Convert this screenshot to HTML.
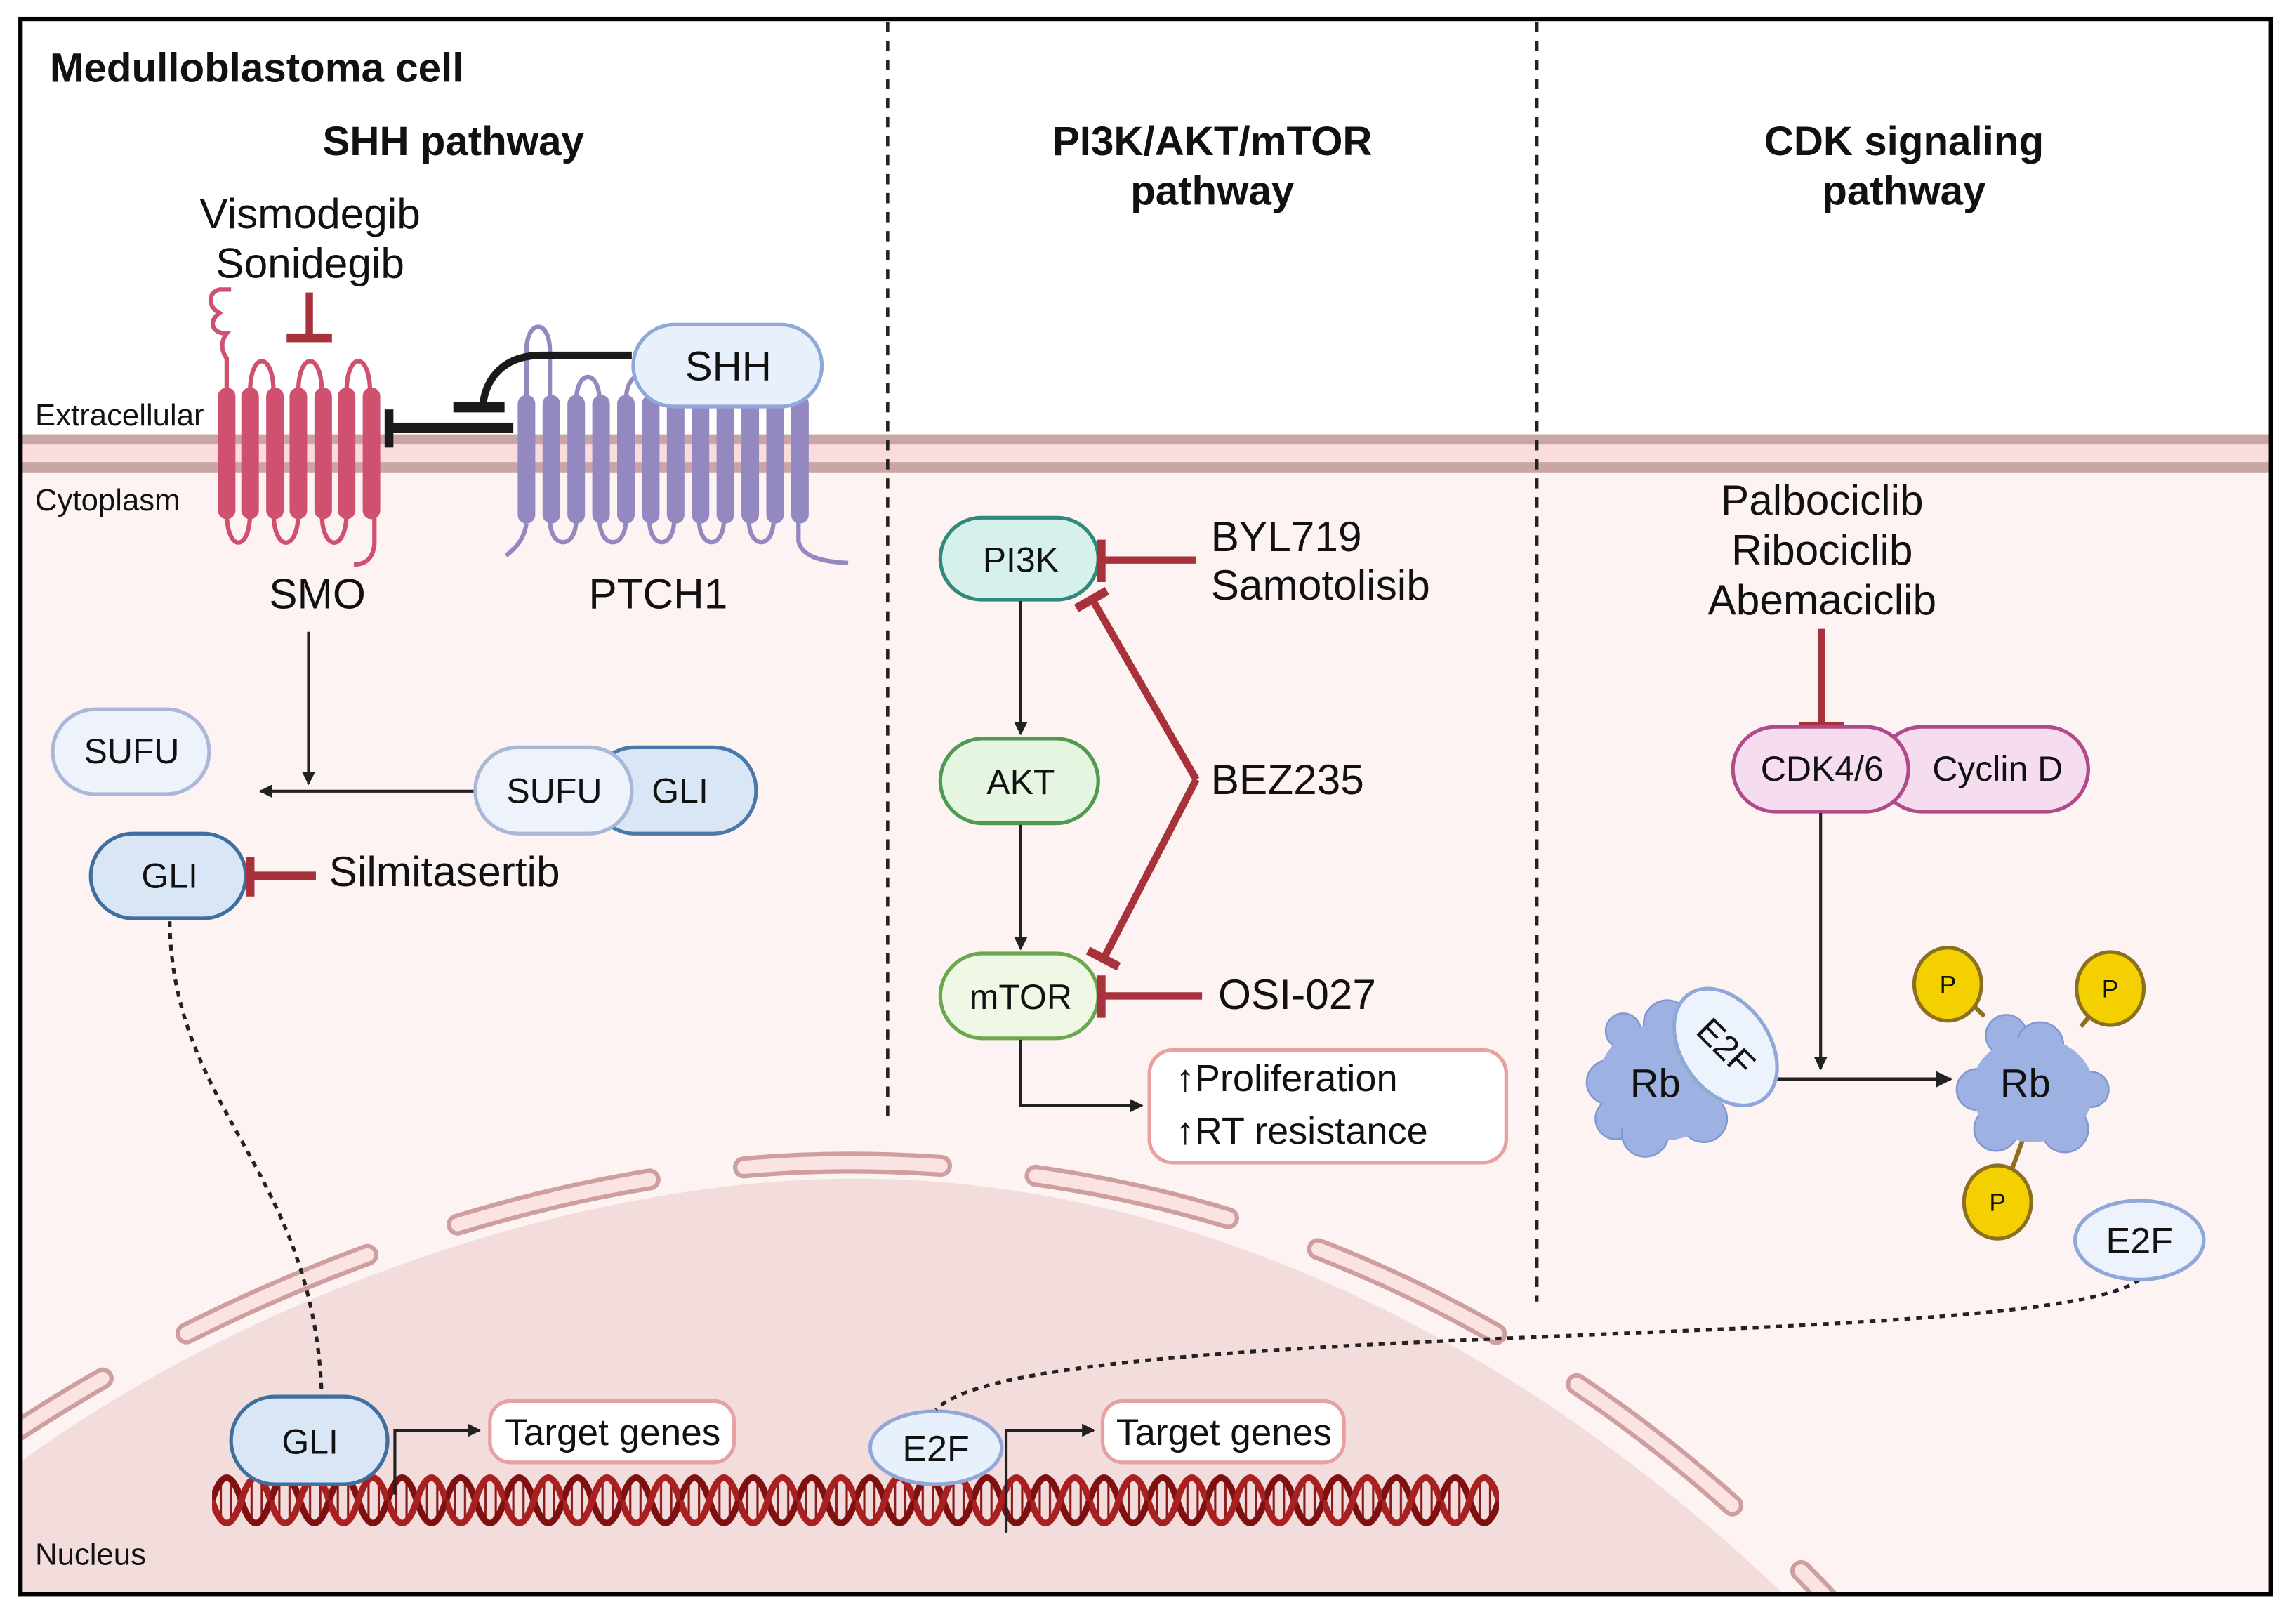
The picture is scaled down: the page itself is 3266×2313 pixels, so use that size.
<!DOCTYPE html>
<html><head><meta charset="utf-8"><style>
html,body{margin:0;padding:0;background:#fff;overflow:hidden;width:3266px;height:2313px;}
svg{display:block;}
text{font-family:"Liberation Sans",sans-serif;fill:#111;}
</style></head><body>
<svg width="3266" height="2313" viewBox="0 0 1568 1110.5" xmlns="http://www.w3.org/2000/svg">
<defs>
<clipPath id="c"><rect x="14" y="13" width="1539" height="1077"/></clipPath>
<pattern id="dna" x="145" y="1003" width="40" height="46" patternUnits="userSpaceOnUse">
<line x1="6" y1="10" x2="6" y2="36" stroke="#8b1a1a" stroke-width="1.5"/>
<line x1="13" y1="7" x2="13" y2="39" stroke="#8b1a1a" stroke-width="1.5"/>
<line x1="27" y1="7" x2="27" y2="39" stroke="#8b1a1a" stroke-width="1.5"/>
<line x1="34" y1="10" x2="34" y2="36" stroke="#8b1a1a" stroke-width="1.5"/>
<path d="M0,23 Q10,-8 20,23 T40,23" fill="none" stroke="#7e1010" stroke-width="4.5"/>
<path d="M0,23 Q10,54 20,23 T40,23" fill="none" stroke="#a82020" stroke-width="4.5"/>
</pattern>
<marker id="ah" viewBox="0 0 10 10" refX="9" refY="5" markerWidth="4.5" markerHeight="4.5" orient="auto"><path d="M0,0 L10,5 L0,10z" fill="#222"/></marker>
</defs>
<rect width="1568" height="1111" fill="#fff"/>
<g clip-path="url(#c)">
<rect x="14" y="310" width="1539" height="790" fill="#fdf3f3"/>
<path d="M0,1010 C150,895 385,806 585,806 C800,806 1035,905 1240,1110 L0,1110 Z" fill="#f2dcdc"/>
<path d="M-20,1000 C150,880 375,795 580,795 C810,795 1060,880 1270,1115" fill="none" stroke="#cf9f9f" stroke-width="15" stroke-dasharray="135 65" stroke-linecap="round" stroke-dashoffset="28"/>
<path d="M-20,1000 C150,880 375,795 580,795 C810,795 1060,880 1270,1115" fill="none" stroke="#fbe3e3" stroke-width="9" stroke-dasharray="135 65" stroke-linecap="round" stroke-dashoffset="28"/>
<rect x="14" y="297" width="1539" height="26" fill="#fbdcdc"/>
<rect x="14" y="297" width="1539" height="7" fill="#c9a5a5"/>
<rect x="14" y="316" width="1539" height="7" fill="#c9a5a5"/>
</g>
<rect x="14" y="13" width="1539" height="1077" fill="none" stroke="#000" stroke-width="3"/>
<line x1="607" y1="15" x2="607" y2="765" stroke="#222" stroke-width="2.2" stroke-dasharray="7 6"/>
<line x1="1051" y1="15" x2="1051" y2="890" stroke="#222" stroke-width="2.2" stroke-dasharray="7 6"/>

<text x="34" y="56" font-size="28" font-weight="bold">Medulloblastoma cell</text>
<g font-size="28" font-weight="bold" text-anchor="middle">
<text x="310" y="106">SHH pathway</text>
<text x="829" y="106">PI3K/AKT/mTOR</text><text x="829" y="140">pathway</text>
<text x="1302" y="106">CDK signaling</text><text x="1302" y="140">pathway</text>
</g>
<g font-size="29" text-anchor="middle">
<text x="212" y="156">Vismodegib</text><text x="212" y="190">Sonidegib</text>
<text x="217" y="416">SMO</text><text x="450" y="416">PTCH1</text>
<text x="1246" y="352">Palbociclib</text><text x="1246" y="386">Ribociclib</text><text x="1246" y="420">Abemaciclib</text>
</g>
<g font-size="29">
<text x="225" y="606">Silmitasertib</text>
<text x="828" y="377">BYL719</text><text x="828" y="410">Samotolisib</text>
<text x="828" y="543">BEZ235</text>
<text x="833" y="690">OSI-027</text>
</g>
<text x="24" y="291" font-size="21">Extracellular</text>
<text x="24" y="349" font-size="21">Cytoplasm</text>
<text x="24" y="1070" font-size="21">Nucleus</text>

<!-- SMO -->
<g stroke="#d05070" stroke-width="3" fill="none">
<path d="M155,268 L155,245 C150,238 152,232 155,228 C145,228 142,220 150,214 C142,210 142,200 150,198 L158,198"/>
<path d="M171,268 C171,240 187,240 187,268 M204,268 C204,240 220,240 220,268 M237,268 C237,240 253,240 253,268"/>
<path d="M155,350 C155,378 171,378 171,350 M187,350 C187,378 204,378 204,350 M220,350 C220,378 237,378 237,350 M256,350 L256,372 C255,382 250,386 242,386"/>
</g>
<g fill="#d05070">
<rect x="149" y="265" width="12" height="90" rx="6"/><rect x="165" y="265" width="12" height="90" rx="6"/><rect x="182" y="265" width="12" height="90" rx="6"/><rect x="198" y="265" width="12" height="90" rx="6"/><rect x="215" y="265" width="12" height="90" rx="6"/><rect x="231" y="265" width="12" height="90" rx="6"/><rect x="248" y="265" width="12" height="90" rx="6"/>
</g>
<!-- PTCH1 -->
<g stroke="#9488c0" stroke-width="3" fill="none">
<path d="M360,275 L360,240 C360,218 376,218 376,240 L376,275"/>
<path d="M394,275 C394,252 410,252 410,275 M428,275 C428,252 444,252 444,275"/>
<path d="M346,380 C352,375 358,370 360,358 M376,355 C376,376 394,376 394,355 M410,355 C410,376 428,376 428,355 M444,355 C444,376 461,376 461,355 M478,355 C478,376 495,376 495,355 M512,355 C512,376 529,376 529,355 M546,355 L546,370 C548,380 560,384 580,385"/>
</g>
<g fill="#9488c0">
<rect x="354" y="270" width="12" height="88" rx="6"/><rect x="371" y="270" width="12" height="88" rx="6"/><rect x="388" y="270" width="12" height="88" rx="6"/><rect x="405" y="270" width="12" height="88" rx="6"/><rect x="422" y="270" width="12" height="88" rx="6"/><rect x="439" y="270" width="12" height="88" rx="6"/><rect x="456" y="270" width="12" height="88" rx="6"/><rect x="473" y="270" width="12" height="88" rx="6"/><rect x="490" y="270" width="12" height="88" rx="6"/><rect x="507" y="270" width="12" height="88" rx="6"/><rect x="524" y="270" width="12" height="88" rx="6"/><rect x="541" y="270" width="12" height="88" rx="6"/>
</g>
<rect x="433" y="222" width="129" height="56" rx="28" fill="#e8f0fb" stroke="#8fa8d8" stroke-width="2.5"/>
<text x="498" y="260" font-size="28" text-anchor="middle">SHH</text>
<path d="M432,243 L370,243 C345,243 332,258 330,278" fill="none" stroke="#1a1a1a" stroke-width="5"/>
<rect x="310" y="275" width="35" height="7" fill="#1a1a1a"/>
<rect x="266" y="289" width="85" height="7" fill="#1a1a1a"/>
<rect x="263" y="280" width="6" height="26" fill="#1a1a1a"/>
<rect x="209" y="200" width="5" height="30" fill="#a8323c"/>
<rect x="196" y="228" width="31" height="6" fill="#a8323c"/>

<line x1="211" y1="432" x2="211" y2="536" stroke="#222" stroke-width="2" marker-end="url(#ah)"/>
<line x1="325" y1="541" x2="178" y2="541" stroke="#222" stroke-width="2" marker-end="url(#ah)"/>
<rect x="36" y="485" width="107" height="58" rx="29" fill="#eef2fb" stroke="#aab8d8" stroke-width="2.5"/>
<text x="90" y="522" font-size="24" text-anchor="middle">SUFU</text>
<rect x="405" y="511" width="112" height="59" rx="29" fill="#d8e6f6" stroke="#4a78a8" stroke-width="2.5"/>
<rect x="325" y="511" width="107" height="59" rx="29" fill="#eef2fb" stroke="#aab8d8" stroke-width="2.5"/>
<text x="379" y="549" font-size="24" text-anchor="middle">SUFU</text>
<text x="465" y="549" font-size="24" text-anchor="middle">GLI</text>
<rect x="62" y="570" width="106" height="58" rx="29" fill="#d8e6f6" stroke="#3f6f9f" stroke-width="2.5"/>
<text x="116" y="607" font-size="24" text-anchor="middle">GLI</text>
<rect x="172" y="596" width="44" height="6" fill="#a8323c"/>
<rect x="168" y="586" width="6" height="27" fill="#a8323c"/>
<path d="M116,630 C118,760 215,800 220,955" fill="none" stroke="#222" stroke-width="2.5" stroke-dasharray="4 4"/>

<rect x="145" y="1003" width="880" height="46" fill="url(#dna)"/>
<rect x="158" y="955" width="107" height="60" rx="30" fill="#d8e6f6" stroke="#3f6f9f" stroke-width="2.5"/>
<text x="212" y="994" font-size="24" text-anchor="middle">GLI</text>
<path d="M270,1022 L270,978 L328,978" fill="none" stroke="#222" stroke-width="2" marker-end="url(#ah)"/>
<rect x="335" y="958" width="167" height="42" rx="14" fill="#fff" stroke="#e9a0a0" stroke-width="2.5"/>
<text x="419" y="988" font-size="25.5" text-anchor="middle">Target genes</text>
<path d="M688,1048 L688,978 L748,978" fill="none" stroke="#222" stroke-width="2" marker-end="url(#ah)"/>
<rect x="754" y="958" width="165" height="42" rx="14" fill="#fff" stroke="#e9a0a0" stroke-width="2.5"/>
<text x="837" y="988" font-size="25.5" text-anchor="middle">Target genes</text>
<ellipse cx="640" cy="990" rx="45" ry="25" fill="#e8f0fb" stroke="#8fa8d8" stroke-width="2.5"/>
<text x="640" y="999" font-size="25" text-anchor="middle">E2F</text>
<path d="M1463,875 C1400,925 700,900 640,964" fill="none" stroke="#222" stroke-width="2.5" stroke-dasharray="4 4"/>

<rect x="643" y="354" width="108" height="56" rx="28" fill="#d6f0ec" stroke="#2f8a7a" stroke-width="2.5"/>
<text x="698" y="391" font-size="24" text-anchor="middle">PI3K</text>
<rect x="643" y="505" width="108" height="58" rx="29" fill="#e5f5e0" stroke="#4f9a4f" stroke-width="2.5"/>
<text x="698" y="543" font-size="24" text-anchor="middle">AKT</text>
<rect x="643" y="652" width="108" height="58" rx="29" fill="#eef8e4" stroke="#6aa84f" stroke-width="2.5"/>
<text x="698" y="690" font-size="24" text-anchor="middle">mTOR</text>
<line x1="698" y1="411" x2="698" y2="502" stroke="#222" stroke-width="2" marker-end="url(#ah)"/>
<line x1="698" y1="564" x2="698" y2="649" stroke="#222" stroke-width="2" marker-end="url(#ah)"/>
<g stroke="#a8323c" stroke-width="5" fill="none">
<line x1="818" y1="383" x2="753" y2="383"/>
<line x1="753" y1="369" x2="753" y2="398" stroke-width="6"/>
<path d="M818,533 L747,410 M818,533 L755,655"/>
<line x1="736" y1="416" x2="757" y2="404" stroke-width="6"/>
<line x1="744" y1="650" x2="765" y2="661" stroke-width="6"/>
<line x1="822" y1="681" x2="753" y2="681"/>
<line x1="753" y1="667" x2="753" y2="696" stroke-width="6"/>
</g>
<path d="M698,711 L698,756 L781,756" fill="none" stroke="#222" stroke-width="2" marker-end="url(#ah)"/>
<rect x="786" y="718" width="244" height="77" rx="16" fill="#fff" stroke="#e9a0a0" stroke-width="2.5"/>
<text x="804" y="746" font-size="26">↑Proliferation</text>
<text x="804" y="782" font-size="26">↑RT resistance</text>

<rect x="1243" y="430" width="5" height="66" fill="#a8323c"/>
<rect x="1230" y="494" width="31" height="6" fill="#a8323c"/>
<rect x="1285" y="497" width="143" height="58" rx="29" fill="#f6dcef" stroke="#b04a8a" stroke-width="2.5"/>
<rect x="1185" y="497" width="120" height="58" rx="29" fill="#f6dcef" stroke="#b04a8a" stroke-width="2.5"/>
<text x="1246" y="534" font-size="24" text-anchor="middle">CDK4/6</text>
<text x="1366" y="534" font-size="24" text-anchor="middle">Cyclin D</text>
<line x1="1245" y1="556" x2="1245" y2="731" stroke="#222" stroke-width="2" marker-end="url(#ah)"/>
<line x1="1215" y1="738" x2="1334" y2="738" stroke="#222" stroke-width="2.5" marker-end="url(#ah)"/>
<g fill="#9db2e2" stroke="#7f98d0" stroke-width="1.2">
<circle cx="1110" cy="705" r="12"/><circle cx="1140" cy="700" r="16"/><circle cx="1100" cy="740" r="15"/><circle cx="1105" cy="765" r="14"/><circle cx="1125" cy="775" r="16"/><circle cx="1165" cy="765" r="16"/><circle cx="1175" cy="740" r="12"/>
</g>
<ellipse cx="1137" cy="740" rx="44" ry="40" fill="#9db2e2"/>
<g stroke="#8a7020" stroke-width="3">
<line x1="1357" y1="695" x2="1345" y2="683"/>
<line x1="1423" y1="702" x2="1438" y2="684"/>
<line x1="1383" y1="780" x2="1372" y2="810"/>
</g>
<g fill="#9db2e2" stroke="#7f98d0" stroke-width="1.2">
<circle cx="1372" cy="708" r="14"/><circle cx="1395" cy="715" r="16"/><circle cx="1352" cy="745" r="14"/><circle cx="1430" cy="745" r="12"/><circle cx="1365" cy="772" r="15"/><circle cx="1412" cy="772" r="16"/>
</g>
<ellipse cx="1390" cy="745" rx="42" ry="36" fill="#9db2e2"/>
<text x="1132" y="750" font-size="27" text-anchor="middle">Rb</text>
<text x="1385" y="750" font-size="27" text-anchor="middle">Rb</text>
<g transform="translate(1180,716) rotate(-35)">
<ellipse cx="0" cy="0" rx="30" ry="44" fill="#edf3fc" stroke="#8fa8d8" stroke-width="2.5"/>
<text x="0" y="0" font-size="24" text-anchor="middle" transform="rotate(80)" dy="8">E2F</text>
</g>
<g fill="#f5d000" stroke="#8a7020" stroke-width="2.5">
<ellipse cx="1332" cy="673" rx="23" ry="25"/><ellipse cx="1443" cy="676" rx="23" ry="25"/><ellipse cx="1366" cy="822" rx="23" ry="25"/>
</g>
<g font-size="17" text-anchor="middle">
<text x="1332" y="679">P</text><text x="1443" y="682">P</text><text x="1366" y="828">P</text>
</g>
<ellipse cx="1463" cy="848" rx="44" ry="27" fill="#edf3fc" stroke="#8fa8d8" stroke-width="2.5"/>
<text x="1463" y="857" font-size="25" text-anchor="middle">E2F</text>
</svg>
</body></html>
